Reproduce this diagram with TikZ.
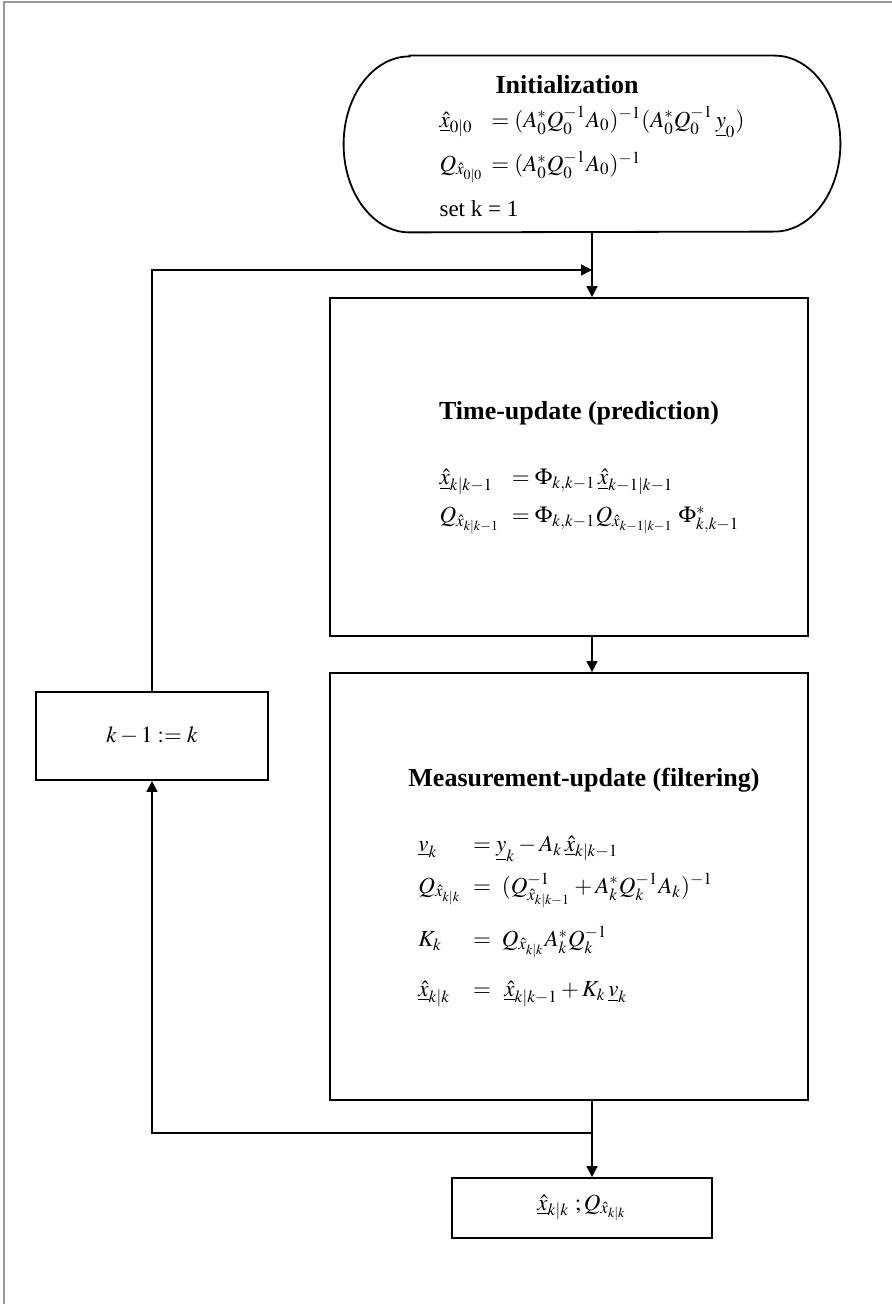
\documentclass[tikz,border=0pt]{standalone}
\usepackage{mathptmx}
\usepackage{fontspec}
\setmainfont{Liberation Serif}
\usepackage{tikz}
\usetikzlibrary{arrows.meta,calc}

\newcommand{\xh}{\underline{\hat{x}}}
\newcommand{\ttl}[1]{{\fontsize{13}{15}\selectfont\bfseries #1}}

\begin{document}
\begin{tikzpicture}[
	x=0.5pt,y=-0.5pt,
	box/.style={draw,line width=0.9pt,inner sep=0pt,align=center},
	lbl/.style={font=\fontsize{11.5}{14}\selectfont},
	link/.style={draw,line width=0.8pt},
	arr/.style={link,-{Triangle[length=5.5pt,width=5.5pt]}},
	frame/.style={draw=gray!80,line width=1pt}
	]
	\useasboundingbox (0,0) rectangle (892,1304);
	\draw[frame] (4,1304) -- (4,2) -- (892,2);

	\node[lbl,inner sep=0pt,minimum width=248pt,minimum height=88pt] (init) at (592,144) {%
		\begin{tabular}{@{}l@{\hspace{4pt}}l@{}}
			\multicolumn{2}{@{}l}{\rule{0pt}{15pt}\hspace{28pt}\ttl{Initialization}}\\[2.5pt]
			$\xh_{0|0}$ & $=(A_0^*Q_0^{-1}A_0)^{-1}(A_0^*Q_0^{-1}\,\underline{y}_0)$\\[7.5pt]
			$Q_{\hat{x}_{0|0}}$ & $=(A_0^*Q_0^{-1}A_0)^{-1}$\\[8.5pt]
			\multicolumn{2}{@{}l}{set k = 1}
		\end{tabular}};
	\draw[line width=0.9pt] ([xshift=33pt]init.north west) -- ([xshift=-33pt]init.north east)
		arc[start angle=90,end angle=-90,x radius=33pt,y radius=44pt]
		-- ([xshift=33pt]init.south west)
		arc[start angle=270,end angle=90,x radius=33pt,y radius=44pt] -- cycle;

	\node[box,lbl,minimum width=239pt,minimum height=169pt] (tu) at (569,467) {%
		\begin{tabular}{@{\hspace{20.5pt}}l@{\hspace{6pt}}l@{}}
			\multicolumn{2}{@{\hspace{10pt}}c@{}}{\ttl{Time-update (prediction)}}\\[18.5pt]
			$\xh_{k|k-1}$ & $=\Phi_{k,k-1}\,\xh_{k-1|k-1}$\\[5pt]
			$Q_{\hat{x}_{k|k-1}}$ & $=\Phi_{k,k-1}Q_{\hat{x}_{k-1|k-1}}\;\Phi^*_{k,k-1}$
		\end{tabular}};

	\node[box,lbl,minimum width=239pt,minimum height=213.5pt] (mu) at (569,886.5) {%
		\begin{tabular}{@{\hspace{20pt}}l@{\hspace{6pt}}l@{}}
			\multicolumn{2}{@{\hspace{15pt}}c@{}}{\ttl{Measurement-update (filtering)}}\\[18.5pt]
			$\underline{v}_k$ & $=\underline{y}_k-A_k\,\xh_{k|k-1}$\\[6.5pt]
			$Q_{\hat{x}_{k|k}}$ & $=\ (Q^{-1}_{\hat{x}_{k|k-1}}+A_k^*Q_k^{-1}A_k)^{-1}$\\[12pt]
			$K_k$ & $=\ Q_{\hat{x}_{k|k}}A_k^*Q_k^{-1}$\\[11pt]
			$\xh_{k|k}$ & $=\ \,\xh_{k|k-1}+K_k\,\underline{v}_k$
		\end{tabular}};

	\node[box,lbl,minimum width=116pt,minimum height=44pt] (kset) at (152,736) {$k-1:=k$};
	\node[box,lbl,minimum width=130pt,minimum height=30pt] (out) at (582,1208) {$\xh_{k|k}\ ;Q_{\hat{x}_{k|k}}$};

	\coordinate (j1) at (592,270);
	\coordinate (j2) at (592,1133);

	\draw[arr] (init.south) -- (init.south |- tu.north);
	\draw[arr] (tu.south -| j1) -- (mu.north -| j1);
	\draw[link] (mu.south -| j1) -- (j2);
	\draw[arr] (j2) -- (out.north -| j1);
	\draw[arr] (j2) -| (kset.south);
	\draw[arr] (kset.north) |- (j1);
\end{tikzpicture}
\end{document}
